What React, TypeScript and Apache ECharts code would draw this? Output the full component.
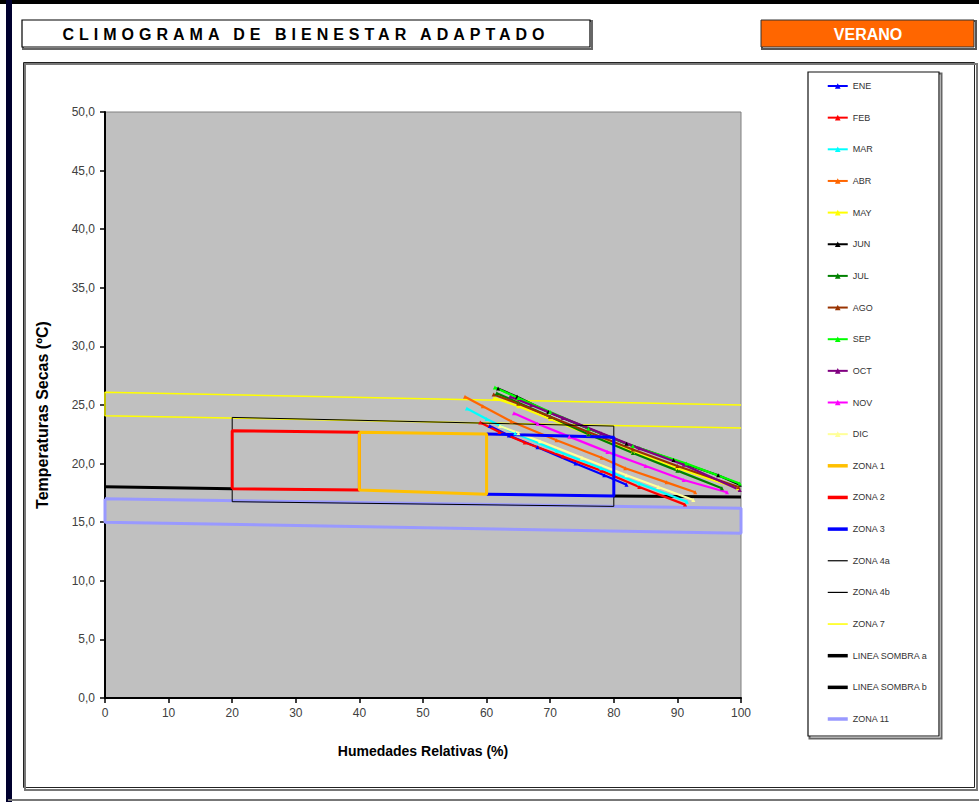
import React, { useEffect, useRef } from 'react';
import * as echarts from 'echarts';

const FONT = 'Liberation Sans, Arial, sans-serif';

// tick values
const X_TICKS = [0, 10, 20, 30, 40, 50, 60, 70, 80, 90, 100];
const Y_MIN = 0;
const Y_MAX = 50;
const Y_STEP = 5;

// monthly curves [relative humidity %, dry temperature ºC]
const ENE = [[60.5, 23.2], [63.5, 22.4], [68, 21.4], [74, 20.0], [78.5, 19.0], [82, 18.2]];
const FEB = [[59.0, 23.5], [62, 22.7], [66, 21.8], [72, 20.6], [78, 19.4], [84, 18.0], [91.2, 16.5]];
const MAR = [[56.9, 24.7], [60, 23.8], [64.5, 22.6], [71, 21.1], [78, 19.6], [84, 18.3], [91.5, 16.75]];
const ABR = [[56.6, 25.7], [59.4, 24.9], [63.9, 23.6], [71, 22.0], [78.1, 20.5], [81.8, 19.6], [88.3, 18.4], [92.8, 17.55]];
const MAY = [[61.2, 25.6], [65, 24.9], [70, 23.8], [76, 22.5], [83, 21.0], [90, 19.6], [99.5, 17.9]];
const JUN = [[61.8, 26.4], [64.8, 25.7], [69.7, 24.4], [76, 23.0], [82, 21.7], [89.4, 20.3], [96.4, 19.0], [99.8, 18.2]];
const JUL = [[61.6, 26.0], [65, 25.2], [70, 24.0], [76, 22.5], [83, 20.9], [90, 19.4], [97, 17.9]];
const AGO = [[61.1, 25.9], [65, 25.1], [70, 24.0], [76, 22.7], [83, 21.2], [90, 19.8], [99.6, 18.0]];
const SEP = [[61.3, 26.5], [65, 25.6], [70, 24.4], [76, 23.0], [83, 21.5], [91.4, 20.0], [99.8, 18.3]];
const OCT = [[63.7, 25.7], [67, 25.0], [72, 23.9], [78, 22.6], [84, 21.3], [91, 19.9], [99.8, 17.75]];
const NOV = [[64.3, 24.3], [68, 23.4], [73, 22.3], [79, 21.0], [85, 19.8], [91, 18.6], [97.8, 17.55]];
const DIC = [[62.1, 23.2], [65, 22.6], [68.4, 21.9], [75, 20.5], [82, 19.0], [87, 18.0], [92.5, 16.9]];

const MONTH_NAMES = ['ENE', 'FEB', 'MAR', 'ABR', 'MAY', 'JUN', 'JUL', 'AGO', 'SEP', 'OCT', 'NOV', 'DIC'];
const MONTH_DATA = [ENE, FEB, MAR, ABR, MAY, JUN, JUL, AGO, SEP, OCT, NOV, DIC];
const MONTH_COLORS = ['#0000FF', '#FF0000', '#00FFFF', '#FF6600', '#FFFF00', '#000000', '#008000', '#993300', '#00FF00', '#800080', '#FF00FF', '#FFFF99'];

// comfort zones
const ZONA_1 = [[40, 22.67], [60, 22.53], [60, 17.38], [40, 17.75], [40, 22.67]];
const ZONA_2 = [[20, 17.86], [20, 22.8], [40, 22.67], [40, 17.75], [20, 17.86]];
const ZONA_3 = [[60, 22.53], [80, 22.24], [80, 17.24], [60, 17.38]];
const ZONA_4A = [[20, 16.75], [20, 23.94], [80, 23.2], [80, 16.35]];
const ZONA_4B = [[20, 16.75], [80, 16.35]];
const ZONA_7 = [[100, 25.0], [0, 26.08], [0, 24.09], [100, 23.04]];
const LINEA_SOMBRA_A = [[0, 18.03], [20, 17.86]];
const LINEA_SOMBRA_B = [[80, 17.24], [100, 17.15]];
const ZONA_11 = [[0, 17.0], [100, 16.2], [100, 14.05], [0, 15.0], [0, 17.0]];

const ZONE_NAMES = ['ZONA 1', 'ZONA 2', 'ZONA 3', 'ZONA 4a', 'ZONA 4b', 'ZONA 7', 'LINEA SOMBRA a', 'LINEA SOMBRA b', 'ZONA 11'];
const ZONE_LEGEND_WIDTHS = [3.5, 3.5, 3.5, 1.2, 1.2, 1.5, 3.5, 3.5, 3.5];

const TITLE = 'CLIMOGRAMA DE BIENESTAR ADAPTADO';
const SEASON = 'VERANO';
const X_NAME = 'Humedades Relativas (%)';
const Y_NAME = 'Temperaturas Secas (ºC)';

function zone(name: string, data: number[][], color: string, width: number) {
  return {
    name,
    type: 'line',
    data,
    symbol: 'none',
    lineStyle: { color, width },
    itemStyle: { color },
    silent: true,
  };
}

export default function App() {
  const ref = useRef<HTMLDivElement>(null);
  useEffect(() => {
    if (!ref.current) return;
    const chart = echarts.init(ref.current, undefined, { renderer: 'svg' });

    const monthSeries = MONTH_NAMES.map((name, i) => ({
      name,
      type: 'line',
      data: MONTH_DATA[i],
      symbol: 'triangle',
      symbolSize: 4,
      lineStyle: { color: MONTH_COLORS[i], width: 2.2 },
      itemStyle: { color: MONTH_COLORS[i] },
    }));

    const legendData = [
      ...MONTH_NAMES.map((name) => ({ name })),
      ...ZONE_NAMES.map((name, i) => ({ name, itemStyle: { opacity: 0 }, lineStyle: { width: ZONE_LEGEND_WIDTHS[i] } })),
    ];

    const option: any = {
      animation: false,
      backgroundColor: '#FFFFFF',
      textStyle: { fontFamily: FONT },
      grid: {
        left: 105,
        right: 238,
        top: 112,
        bottom: 104,
        show: true,
        backgroundColor: '#C0C0C0',
        borderColor: '#808080',
        borderWidth: 1,
      },
      xAxis: {
        type: 'value',
        min: X_TICKS[0],
        max: X_TICKS[X_TICKS.length - 1],
        interval: 10,
        name: X_NAME,
        nameLocation: 'middle',
        nameGap: 46,
        nameTextStyle: { fontFamily: FONT, fontSize: 14, fontWeight: 'bold', color: '#000' },
        splitLine: { show: false },
        axisLine: { show: true, onZero: false, lineStyle: { color: '#000', width: 2 } },
        axisTick: { show: true, length: 5, lineStyle: { color: '#000', width: 1.5 } },
        axisLabel: { fontFamily: FONT, fontSize: 12, color: '#404040', margin: 9 },
      },
      yAxis: {
        type: 'value',
        min: Y_MIN,
        max: Y_MAX,
        interval: Y_STEP,
        name: Y_NAME,
        nameLocation: 'middle',
        nameGap: 55,
        nameTextStyle: { fontFamily: FONT, fontSize: 16, fontWeight: 'bold', color: '#000', padding: [0, 20, 0, 0] },
        splitLine: { show: false },
        axisLine: { show: true, onZero: false, lineStyle: { color: '#000', width: 2 } },
        axisTick: { show: true, length: 5, lineStyle: { color: '#000', width: 1.5 } },
        axisLabel: {
          fontFamily: FONT,
          fontSize: 12,
          color: '#404040',
          margin: 10,
          formatter: (v: number) => v.toFixed(1).replace('.', ','),
        },
      },
      legend: {
        orient: 'vertical',
        left: 826,
        top: 81,
        padding: 0,
        itemWidth: 20,
        itemHeight: 7,
        itemGap: 21.65,
        data: legendData,
        textStyle: { fontFamily: FONT, fontSize: 9, color: '#333', lineHeight: 10 },
        selectedMode: false,
      },
      graphic: [
        { type: 'rect', shape: { x: 0, y: 0, width: 979, height: 4 }, style: { fill: '#000' }, silent: true },
        { type: 'rect', shape: { x: 6, y: 0, width: 6, height: 802 }, style: { fill: '#00002e' }, silent: true },
        { type: 'line', shape: { x1: 8, y1: 800, x2: 979, y2: 800 }, style: { stroke: '#777', lineWidth: 2 }, silent: true },
        // chart frame
        { type: 'rect', shape: { x: 25, y: 64, width: 952, height: 726 }, style: { fill: 'none', stroke: '#777', lineWidth: 2 }, silent: true },
        { type: 'rect', shape: { x: 23.5, y: 62.5, width: 951, height: 725 }, style: { fill: '#fff', stroke: '#222', lineWidth: 1 }, silent: true, z: -10 },
        // title box
        { type: 'rect', shape: { x: 23, y: 21, width: 569, height: 28 }, style: { fill: 'none', stroke: '#666', lineWidth: 2 }, silent: true },
        { type: 'rect', shape: { x: 22, y: 20, width: 568, height: 27 }, style: { fill: '#fff', stroke: '#000', lineWidth: 1.2 }, silent: true },
        {
          type: 'text', x: 306, y: 34,
          style: { text: TITLE, fill: '#000', font: `bold 16px ${FONT}`, align: 'center', verticalAlign: 'middle' },
          silent: true,
        },
        // season box
        { type: 'rect', shape: { x: 762, y: 21, width: 214, height: 28 }, style: { fill: 'none', stroke: '#555', lineWidth: 2 }, silent: true },
        { type: 'rect', shape: { x: 761, y: 20, width: 213, height: 27 }, style: { fill: '#FF6600', stroke: '#333', lineWidth: 1 }, silent: true },
        {
          type: 'text', x: 868, y: 34,
          style: { text: SEASON, fill: '#fff', font: `bold 16px ${FONT}`, align: 'center', verticalAlign: 'middle' },
          silent: true,
        },
        // legend box
        { type: 'rect', shape: { x: 809.5, y: 73.5, width: 132, height: 665 }, style: { fill: 'none', stroke: '#666', lineWidth: 2 }, silent: true },
        { type: 'rect', shape: { x: 808, y: 72, width: 131, height: 664 }, style: { fill: '#fff', stroke: '#111', lineWidth: 1.2 }, silent: true },
      ],
      series: [
        zone('ZONA 11', ZONA_11, '#9999FF', 3),
        zone('ZONA 7', ZONA_7, '#FFFF00', 1.5),
        zone('LINEA SOMBRA a', LINEA_SOMBRA_A, '#000000', 3),
        zone('LINEA SOMBRA b', LINEA_SOMBRA_B, '#000000', 3),
        ...monthSeries,
        zone('ZONA 4a', ZONA_4A, '#000000', 1),
        zone('ZONA 4b', ZONA_4B, '#000000', 1),
        zone('ZONA 3', ZONA_3, '#0000FF', 3),
        zone('ZONA 2', ZONA_2, '#FF0000', 3),
        zone('ZONA 1', ZONA_1, '#FFC000', 3),
      ],
    };
    chart.setOption(option);

    // letter spacing on the title text
    const texts = ref.current.querySelectorAll('text');
    texts.forEach((t) => {
      if (t.textContent === TITLE) {
        t.setAttribute('letter-spacing', '5');
      }
    });

    return () => chart.dispose();
  }, []);

  return <div ref={ref} style={{ position: 'fixed', left: 0, top: 0, width: 979, height: 802 }} />;
}
